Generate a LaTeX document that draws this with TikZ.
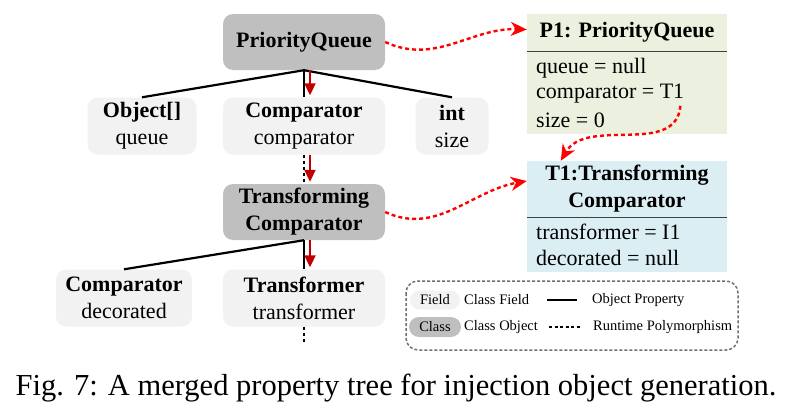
\documentclass[tikz,border=0pt]{standalone}
\usepackage{fontspec}
\setmainfont{Liberation Serif}
\usetikzlibrary{arrows.meta}

\definecolor{classgray}{HTML}{BFBFBF}
\definecolor{fieldgray}{HTML}{F2F2F2}
\definecolor{objgreen}{HTML}{EBF1DE}
\definecolor{objblue}{HTML}{DBEEF4}
\definecolor{flowred}{HTML}{C00000}
\definecolor{legendgray}{HTML}{707070}

\newcommand{\boxfont}{\fontsize{22}{27}\selectfont}
\newcommand{\legfont}{\fontsize{14.5}{17}\selectfont}

\tikzset{
  cls/.style={fill=classgray, rounded corners=10pt, minimum width=162pt,
    minimum height=56pt, align=center, font=\boxfont\bfseries},
  fld/.style={fill=fieldgray, rounded corners=10pt, minimum height=57pt,
    align=center, font=\boxfont},
  objhead/.style={minimum width=200pt, align=center, inner sep=0pt, font=\boxfont\bfseries},
  objbody/.style={minimum width=200pt, inner sep=0pt},
  objline/.style={anchor=west, inner sep=0pt, font=\boxfont},
  prop/.style={line width=2.2pt},
  poly/.style={line width=2.2pt, dash pattern=on 3pt off 3pt},
  flow/.style={draw=flowred, line width=2pt, -{Triangle[length=12pt,width=11pt]}},
  link/.style={draw=red, line width=2.4pt, dash pattern=on 4pt off 3pt,
    -{Stealth[length=16pt,width=14pt,inset=5pt]}},
  legtext/.style={anchor=west, inner sep=0pt, font=\legfont},
}

\begin{document}
\begin{tikzpicture}[x=1pt,y=1pt]
  \useasboundingbox (0,0) rectangle (793,-415);

  % property tree
  \node[cls] (pq) at (304,-42) {PriorityQueue};
  \node[fld, minimum width=109pt] (fq) at (142,-126) {\textbf{Object[]}\\queue};
  \node[fld, minimum width=162pt] (fc) at (304,-126) {\textbf{Comparator}\\comparator};
  \node[fld, minimum width=73pt] (fs) at (452,-126) {\textbf{int}\\size};
  \node[cls] (tc) at (304,-212) {Transforming\\Comparator};
  \node[fld, minimum width=136pt] (fd) at (124,-298) {\textbf{Comparator}\\decorated};
  \node[fld, minimum width=162pt] (ft) at (304,-298) {\textbf{Transformer}\\transformer};
  \coordinate (tail) at (304,-343);

  \draw[prop] (pq.south) -- (fq.north);
  \draw[prop] (pq.south) -- (fc.north);
  \draw[prop] (pq.south) -- (fs.north);
  \draw[poly] (fc.south) -- (tc.north);
  \draw[prop] (tc.south) -- (fd.north);
  \draw[prop] (tc.south) -- (ft.north);
  \draw[poly] (ft.south) -- (tail);

  \draw[flow] ([xshift=6pt]pq.south) -- ([xshift=6pt,yshift=2pt]fc.north);
  \draw[flow] ([xshift=6pt]fc.south) -- ([xshift=6pt,yshift=2pt]tc.north);
  \draw[flow] ([xshift=6pt]tc.south) -- ([xshift=6pt,yshift=2pt]ft.north);

  % injection objects
  \node[objhead, fill=objgreen, minimum height=37pt] (p1head) at (627,-32.5) {P1: PriorityQueue};
  \node[objbody, fill=objgreen, minimum height=83pt, anchor=north] (p1body) at (p1head.south) {};
  \draw[black!75, line width=0.8pt] (p1head.south west) -- (p1head.south east);
  \node[objline] (p1q) at (536,-68) {queue = null};
  \node[objline] (p1c) at (536,-94) {comparator = T1};
  \node[objline] (p1s) at (536,-120) {size = 0};

  \node[objhead, fill=objblue, minimum height=56pt] (t1head) at (627,-189) {T1:Transforming\\Comparator};
  \node[objbody, fill=objblue, minimum height=55pt, anchor=north] (t1body) at (t1head.south) {};
  \draw[black!75, line width=0.8pt] (t1head.south west) -- (t1head.south east);
  \node[objline] (t1t) at (536,-232) {transformer = I1};
  \node[objline] (t1d) at (536,-258) {decorated = null};

  \draw[link] (pq.east) to[out=-25, in=178] ([yshift=3pt]p1head.west);
  \draw[link] (tc.east) to[out=-25, in=190] ([yshift=4pt]t1head.north west |- 0,-185);
  \draw[link] ([xshift=-4pt,yshift=-2pt]p1c.south east) to[out=-95, in=60] ([xshift=34pt]t1head.north west);

  % legend
  \draw[legendgray, line width=1.5pt, dash pattern=on 3pt off 2pt, rounded corners=12pt]
    (406,-281) rectangle (738,-350);
  \node[fill=fieldgray, rounded corners=9.5pt, minimum width=50pt, minimum height=19pt,
    inner sep=0pt, font=\legfont] (legfld) at (435,-300) {Field};
  \node[legtext] (legfldtxt) at (464,-300) {Class Field};
  \node[fill=classgray, rounded corners=10pt, minimum width=52pt, minimum height=20pt,
    inner sep=0pt, font=\legfont] (legcls) at (435,-327) {Class};
  \node[legtext] (legclstxt) at (464,-327) {Class Object};
  \coordinate (solidA) at (547,-300);
  \coordinate (solidB) at (577,-300);
  \coordinate (dashA) at (549,-327);
  \coordinate (dashB) at (580,-327);
  \draw[line width=1.5pt] (solidA) -- (solidB);
  \draw[line width=1.5pt, dash pattern=on 3pt off 2.5pt] (dashA) -- (dashB);
  \node[legtext] (legprop) at (592,-300) {Object Property};
  \node[legtext] (legpoly) at (593,-327) {Runtime Polymorphism};

  % caption
  \node[font=\fontsize{30.5}{34}\selectfont] (caption) at (396,-388)
    {Fig. 7: A merged property tree for injection object generation.};
\end{tikzpicture}
\end{document}
